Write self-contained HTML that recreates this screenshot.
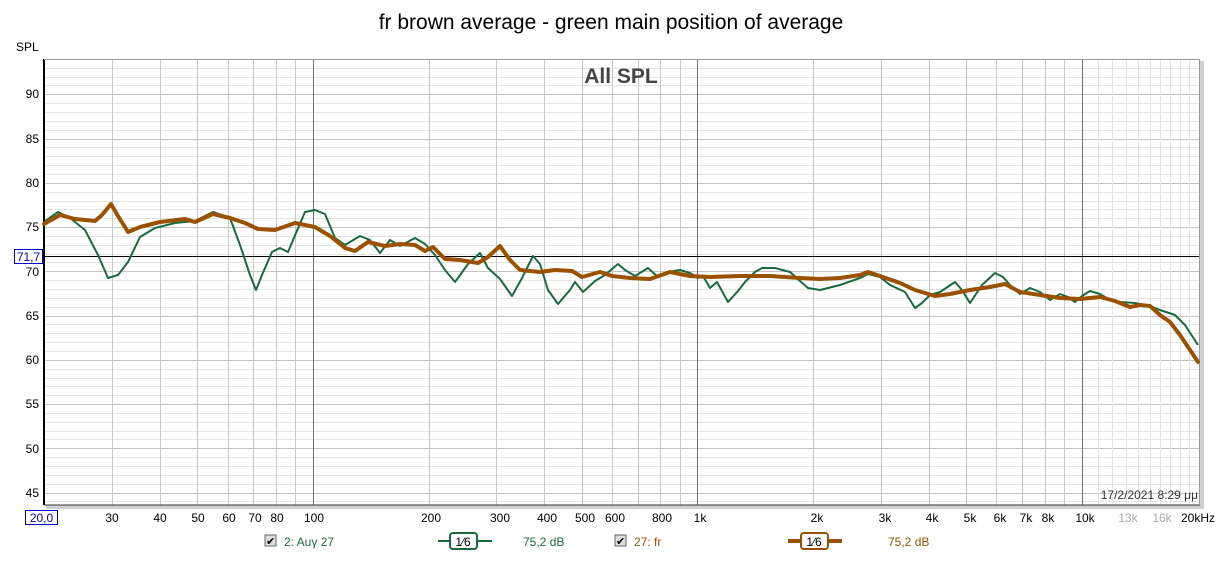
<!DOCTYPE html>
<html><head><meta charset="utf-8"><style>
body{margin:0;background:#fff;}
text{font-family:"Liberation Sans",Arial,sans-serif;}
</style></head><body>
<svg width="1222" height="556" viewBox="0 0 1222 556" xmlns="http://www.w3.org/2000/svg">
<rect width="1222" height="556" fill="#fff"/>
<text x="611" y="29" font-size="21" text-anchor="middle" fill="#000">fr brown average - green main position of average</text>
<text x="16" y="51" font-size="12" fill="#000">SPL</text>
<rect x="46" y="61" width="1158" height="448" fill="#d0d0d0"/>
<rect x="44" y="59" width="1156" height="446" fill="#fff"/>
<path fill="none" stroke="#e4e4e4" stroke-width="1" d="M44,68.5H1200M44,77.5H1200M44,85.5H1200M44,103.5H1200M44,112.5H1200M44,121.5H1200M44,130.5H1200M44,147.5H1200M44,156.5H1200M44,165.5H1200M44,174.5H1200M44,192.5H1200M44,201.5H1200M44,209.5H1200M44,218.5H1200M44,236.5H1200M44,245.5H1200M44,254.5H1200M44,262.5H1200M44,280.5H1200M44,289.5H1200M44,298.5H1200M44,307.5H1200M44,324.5H1200M44,333.5H1200M44,342.5H1200M44,351.5H1200M44,369.5H1200M44,378.5H1200M44,386.5H1200M44,395.5H1200M44,413.5H1200M44,422.5H1200M44,431.5H1200M44,439.5H1200M44,457.5H1200M44,466.5H1200M44,475.5H1200M44,484.5H1200M44,501.5H1200"/>
<path fill="none" stroke="#c4c4c4" stroke-width="1" d="M44,94.5H1200M44,139.5H1200M44,183.5H1200M44,227.5H1200M44,271.5H1200M44,316.5H1200M44,360.5H1200M44,404.5H1200M44,448.5H1200M44,493.5H1200"/>
<path fill="none" stroke="#c8c8c8" stroke-width="1" d="M112.5,59V505M160.5,59V505M197.5,59V505M228.5,59V505M253.5,59V505M276.5,59V505M295.5,59V505M429.5,59V505M496.5,59V505M544.5,59V505M582.5,59V505M612.5,59V505M638.5,59V505M660.5,59V505M680.5,59V505M813.5,59V505M881.5,59V505M929.5,59V505M966.5,59V505M996.5,59V505M1022.5,59V505M1045.5,59V505M1064.5,59V505"/>
<path fill="none" stroke="#e4e4e4" stroke-width="1" d="M1098.5,59V505M1112.5,59V505M1126.5,59V505M1138.5,59V505M1150.5,59V505M1160.5,59V505M1170.5,59V505M1180.5,59V505M1189.5,59V505"/>
<path fill="none" stroke="#707070" stroke-width="1" d="M313.5,59V505M697.5,59V505M1082.5,59V505"/>
<line x1="44" y1="256.5" x2="1200" y2="256.5" stroke="#000" stroke-width="1"/>
<line x1="44" y1="59" x2="44" y2="505" stroke="#000" stroke-width="2"/>
<line x1="44" y1="505" x2="1200" y2="505" stroke="#333" stroke-width="1"/>
<line x1="44" y1="59.5" x2="1200" y2="59.5" stroke="#999" stroke-width="1"/>
<line x1="1199.5" y1="59" x2="1199.5" y2="505" stroke="#999" stroke-width="1"/>
<text x="621" y="83" font-size="21" font-weight="bold" fill="#444" text-anchor="middle">All SPL</text>
<g font-size="12" fill="#000" text-anchor="end">
<text x="39" y="98">90</text><text x="39" y="143">85</text><text x="39" y="187">80</text>
<text x="39" y="231">75</text><text x="39" y="276">70</text><text x="39" y="320">65</text>
<text x="39" y="364">60</text><text x="39" y="408">55</text><text x="39" y="453">50</text><text x="39" y="497">45</text>
</g>
<rect x="14.5" y="249.5" width="28" height="14" fill="#fff" stroke="#00c" stroke-width="1"/>
<text x="28.5" y="261" font-size="12" fill="#00c" text-anchor="middle">71,7</text>
<rect x="25.5" y="510.5" width="32" height="14" fill="#fff" stroke="#00c" stroke-width="1"/>
<text x="41.5" y="522" font-size="12" fill="#00c" text-anchor="middle">20,0</text>
<g font-size="12" fill="#000" text-anchor="middle">
<text x="112" y="522">30</text><text x="160" y="522">40</text><text x="198" y="522">50</text>
<text x="229" y="522">60</text><text x="255" y="522">70</text><text x="277" y="522">80</text>
<text x="314" y="522">100</text><text x="431" y="522">200</text><text x="500" y="522">300</text>
<text x="547" y="522">400</text><text x="585" y="522">500</text><text x="615" y="522">600</text>
<text x="662" y="522">800</text><text x="700" y="522">1k</text><text x="817" y="522">2k</text>
<text x="885" y="522">3k</text><text x="932" y="522">4k</text><text x="970" y="522">5k</text>
<text x="1000" y="522">6k</text><text x="1026" y="522">7k</text><text x="1048" y="522">8k</text>
<text x="1085" y="522">10k</text>
<text x="1128" y="522" fill="#aaa">13k</text><text x="1162" y="522" fill="#aaa">16k</text>
<text x="1198" y="522">20kHz</text>
</g>
<text x="1198" y="499" font-size="12" fill="#333" text-anchor="end">17/2/2021 8:29 μμ</text>
<polyline fill="none" stroke="#1b6a3e" stroke-width="2" stroke-linejoin="round" points="44,222 58,212 70,218 85,230 98,255 108,278 118,275 128,262 140,237 155,228 175,223 195,221 213,212 230,218 240,245 250,275 256,290 262,275 272,252 280,248 288,252 296,233 305,212 315,210 325,214 335,238 345,245 360,236 370,240 380,253 390,240 400,246 415,238 425,244 435,255 445,270 455,282 468,264 480,253 488,268 500,279 512,296 522,278 533,256 540,264 548,290 558,304 570,290 575,282 583,292 595,281 605,275 618,264 625,270 635,276 648,268 658,277 668,272 680,270 690,273 698,278 703,276 710,288 717,282 728,302 738,291 745,282 755,272 762,268 775,268 790,272 800,281 808,288 820,290 840,285 860,278 868,274 880,277 890,285 905,292 915,308 922,303 930,295 940,292 955,282 962,290 970,303 982,285 995,273 1003,277 1010,285 1020,294 1030,288 1040,292 1050,300 1060,294 1068,297 1075,302 1082,296 1090,291 1100,294 1110,300 1120,302 1135,303 1150,306 1160,310 1175,315 1185,325 1198,345"/>
<polyline fill="none" stroke="#9a5200" stroke-width="4" stroke-linejoin="round" stroke-linecap="round" points="44,224 60,215 75,219 95,221 102,215 111,204 118,216 128,232 140,227 160,222 185,219 195,222 213,214 230,218 245,223 258,229 275,230 295,223 315,227 330,236 345,248 355,251 368,242 385,246 400,244 415,245 425,251 433,247 445,259 460,260 478,263 488,257 500,246 510,260 520,270 540,272 555,270 572,271 582,277 600,272 612,276 630,278 650,279 670,272 690,276 710,277 740,276 770,276 800,278 820,279 840,278 860,275 868,272 880,276 900,283 915,290 935,296 950,294 970,290 990,287 1005,284 1020,292 1040,295 1060,298 1080,299 1100,297 1115,301 1130,307 1140,305 1150,306 1160,315 1170,322 1180,335 1190,350 1198,362"/>
<g font-size="12">
<rect x="265" y="535" width="11" height="11" fill="#ddd" stroke="#666"/>
<text x="266" y="545" font-size="11" fill="#000">✔</text>
<text x="284" y="546" fill="#1b6a3e">2: Auγ 27</text>
<line x1="438" y1="541" x2="492" y2="541" stroke="#1b6a3e" stroke-width="2"/>
<rect x="450" y="533" width="27" height="16" rx="3" fill="#fff" stroke="#1b6a3e" stroke-width="2"/>
<text x="463" y="546" text-anchor="middle" fill="#000">1⁄6</text>
<text x="523" y="546" fill="#1b6a3e">75,2 dB</text>
<rect x="615" y="535" width="11" height="11" fill="#ddd" stroke="#666"/>
<text x="616" y="545" font-size="11" fill="#000">✔</text>
<text x="634" y="546" fill="#9a5200">27: fr</text>
<line x1="788" y1="541" x2="842" y2="541" stroke="#9a5200" stroke-width="4"/>
<rect x="801" y="533" width="27" height="16" rx="3" fill="#fff" stroke="#9a5200" stroke-width="2"/>
<text x="814" y="546" text-anchor="middle" fill="#000">1⁄6</text>
<text x="888" y="546" fill="#9a5200">75,2 dB</text>
</g>
</svg>
</body></html>
